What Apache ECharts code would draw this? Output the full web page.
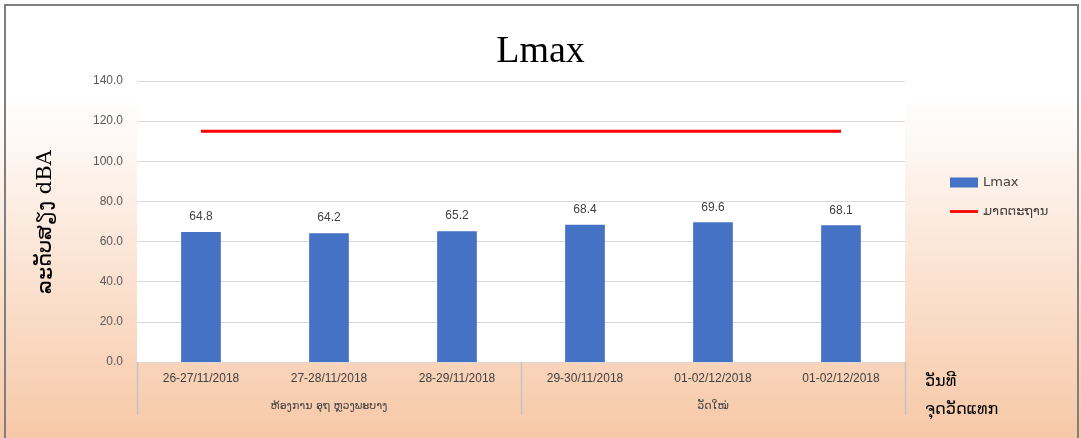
<!DOCTYPE html>
<html>
<head>
<meta charset="utf-8">
<script src="https://cdn.jsdelivr.net/npm/echarts@6/dist/echarts.min.js"></script>
<style>
  html, body { margin: 0; padding: 0; background: #ffffff; }
  #chart { width: 1081px; height: 438px; }
</style>
</head>
<body>
<div id="chart"></div>
<script>
// Measurement periods and their site groups
const categories = ['26-27/11/2018', '27-28/11/2018', '28-29/11/2018', '29-30/11/2018', '01-02/12/2018', '01-02/12/2018'];
const siteGroups = ['ຫ້ອງການ ອຸຖ ຫຼວງພະບາງ', 'ວັດໃໝ່'];
// Maximum sound level (dBA) per period
const lmaxValues = [64.8, 64.2, 65.2, 68.4, 69.6, 68.1];
// Reference standard level
const standardValues = [115, 115, 115, 115, 115, 115];
const yTicks = { min: 0, max: 140, interval: 20 };

const periodsPerGroup = categories.length / siteGroups.length;

const chart = echarts.init(document.getElementById('chart'), null, { renderer: 'canvas' });

const laoFont = '"DejaVu Sans", "Noto Sans", sans-serif';

const baseGraphics = [
  {
    type: 'rect',
    shape: { x: 5, y: 5, width: 1073, height: 440 },
    style: { fill: 'none', stroke: '#7f7f7f', lineWidth: 2 },
    silent: true
  },
  {
    type: 'text',
    x: 46,
    y: 222,
    rotation: Math.PI / 2,
    style: {
      text: 'ລະດັບສຽງ dBA',
      fontFamily: '"DejaVu Serif", "Liberation Serif", serif',
      fontSize: 21,
      fill: '#000000',
      align: 'center',
      verticalAlign: 'middle'
    }
  },
  {
    type: 'text',
    left: 925,
    top: 374,
    style: { text: 'ວັນທີ', fontFamily: laoFont, fontSize: 16, fill: '#000000' }
  },
  {
    type: 'text',
    left: 925,
    top: 402,
    style: { text: 'ຈຸດວັດແທກ', fontFamily: laoFont, fontSize: 16, fill: '#000000' }
  }
];

chart.setOption({
  animation: false,
  backgroundColor: {
    type: 'linear', x: 0, y: 0, x2: 0, y2: 1,
    colorStops: [
      { offset: 0, color: '#ffffff' },
      { offset: 0.22, color: '#ffffff' },
      { offset: 1, color: '#f7c8a7' }
    ]
  },
  title: {
    text: 'Lmax',
    left: 'center',
    top: 28,
    textStyle: { fontFamily: '"Liberation Serif", "DejaVu Serif", serif', fontSize: 38, fontWeight: 'normal', color: '#000000' }
  },
  legend: {
    orient: 'vertical',
    left: 945,
    top: 171,
    itemWidth: 28,
    itemHeight: 10,
    itemGap: 16,
    textStyle: { fontFamily: laoFont, fontSize: 13, color: '#404040' },
    data: [
      { name: 'Lmax', icon: 'rect' },
      { name: 'ມາດຕະຖານ', icon: 'path://M0,0 L30,0 L30,3 L0,3 Z' }
    ]
  },
  grid: { left: 137, right: 176, top: 81, bottom: 76, show: true, backgroundColor: '#ffffff', borderWidth: 0 },
  xAxis: [
    {
      type: 'category',
      data: categories,
      position: 'bottom',
      axisLine: { show: true, lineStyle: { color: '#d9d9d9', width: 1 } },
      axisTick: { show: false },
      axisLabel: { interval: 0, margin: 11, fontFamily: '"Liberation Sans", Arial, sans-serif', fontSize: 12, color: '#404040' }
    },
    {
      type: 'category',
      data: siteGroups,
      position: 'bottom',
      axisLine: { show: false },
      axisTick: { show: false },
      axisLabel: { interval: 0, margin: 39, fontFamily: laoFont, fontSize: 11, color: '#404040' },
      splitLine: { show: false }
    }
  ],
  yAxis: {
    type: 'value',
    min: yTicks.min,
    max: yTicks.max,
    interval: yTicks.interval,
    axisLine: { show: false },
    axisTick: { show: false },
    axisLabel: {
      margin: 14,
      fontFamily: '"Liberation Sans", Arial, sans-serif',
      fontSize: 12,
      color: '#595959',
      formatter: v => v.toFixed(1)
    },
    splitLine: { show: true, lineStyle: { color: '#d9d9d9', width: 1 } }
  },
  series: [
    {
      name: 'Lmax',
      type: 'bar',
      xAxisIndex: 0,
      data: lmaxValues,
      barWidth: '31%',
      itemStyle: { color: '#4472c4' },
      label: {
        show: true,
        position: 'top',
        distance: 9,
        fontFamily: '"Liberation Sans", Arial, sans-serif',
        fontSize: 12,
        color: '#404040',
        formatter: p => p.value.toFixed(1)
      }
    },
    {
      name: 'ມາດຕະຖານ',
      type: 'line',
      xAxisIndex: 0,
      data: standardValues,
      symbol: 'none',
      lineStyle: { color: '#ff0000', width: 3 },
      itemStyle: { color: '#ff0000' }
    }
  ],
  graphic: baseGraphics
});

// Vertical separators below the axis: outer edges and the boundary between sites
const c0 = chart.convertToPixel({ xAxisIndex: 0 }, 0);
const c1 = chart.convertToPixel({ xAxisIndex: 0 }, 1);
const band = c1 - c0;
const yBase = chart.convertToPixel({ yAxisIndex: 0 }, yTicks.min);
const separators = [];
for (let i = 0; i <= categories.length; i += periodsPerGroup) {
  const x = Math.round(c0 - band / 2 + i * band) + 0.5;
  separators.push({
    type: 'line',
    silent: true,
    z: 200,
    shape: { x1: x, y1: yBase, x2: x, y2: yBase + 53 },
    style: { stroke: '#c4c4c4', lineWidth: 1.5 }
  });
}
chart.setOption({ graphic: baseGraphics.concat(separators) });
</script>
</body>
</html>
